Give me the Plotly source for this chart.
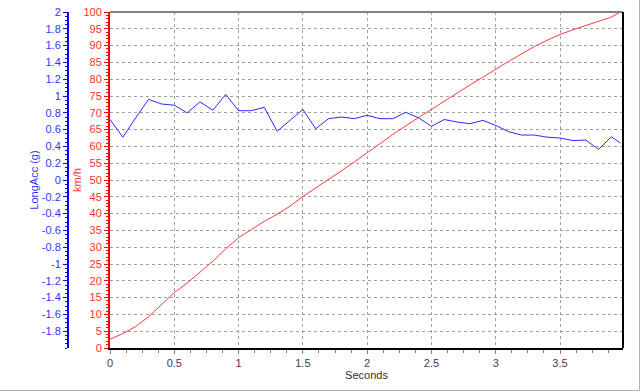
import plotly.graph_objects as go

# ---- data ----
time_s = [0.0, 0.1, 0.2, 0.3, 0.4, 0.5, 0.6, 0.7, 0.8, 0.9,
          1.0, 1.1, 1.2, 1.3, 1.4, 1.5, 1.6, 1.7, 1.8, 1.9,
          2.0, 2.1, 2.2, 2.3, 2.4, 2.5, 2.6, 2.7, 2.8, 2.9,
          3.0, 3.1, 3.2, 3.3, 3.4, 3.5, 3.6, 3.7, 3.8, 3.9, 3.97]

speed_kmh = [2.6, 4.3, 6.4, 9.3, 12.9, 16.5, 19.3, 22.5, 25.8, 29.5,
             32.8, 35.3, 37.7, 39.8, 42.2, 45.1, 47.6, 50.1, 52.7, 55.4,
             58.0, 60.8, 63.6, 66.2, 68.6, 71.0, 73.5, 76.0, 78.3, 80.6,
             83.0, 85.3, 87.5, 89.7, 91.6, 93.3, 94.7, 95.9, 97.1, 98.5, 100.0]

long_acc_g = [0.72, 0.51, 0.74, 0.96, 0.905, 0.89, 0.80, 0.93, 0.83, 1.02,
              0.825, 0.825, 0.865, 0.58, 0.71, 0.84, 0.61, 0.73, 0.75, 0.73,
              0.77, 0.73, 0.73, 0.806, 0.74, 0.64, 0.72, 0.69, 0.67, 0.71,
              0.65, 0.575, 0.535, 0.535, 0.51, 0.50, 0.47, 0.475, 0.365, 0.515, 0.44]

acc_tick_vals = [2, 1.8, 1.6, 1.4, 1.2, 1, 0.8, 0.6, 0.4, 0.2, 0,
                 -0.2, -0.4, -0.6, -0.8, -1, -1.2, -1.4, -1.6, -1.8]
acc_tick_text = ["2", "1.8", "1.6", "1.4", "1.2", "1", "0.8", "0.6", "0.4", "0.2", "0",
                 "-0.2", "-0.4", "-0.6", "-0.8", "-1", "-1.2", "-1.4", "-1.6", "-1.8"]

FONT = "Liberation Sans, Arial, sans-serif"
W, H = 641, 392
ML, MR, MT, MB = 60, 18, 12, 44
PW = W - ML - MR
PH = H - MT - MB
X0_PX = 110          # left edge of plotting area
BLUE_AXIS_PX = 68    # position of free blue axis

fig = go.Figure()
fig.add_trace(go.Scatter(x=time_s, y=speed_kmh, mode="lines",
                         line=dict(color="#ff3a3a", width=1), yaxis="y", name="km/h"))
fig.add_trace(go.Scatter(x=time_s, y=long_acc_g, mode="lines",
                         line=dict(color="#2a2aff", width=1), yaxis="y2", name="LongAcc (g)"))

dom0 = (X0_PX - ML) / PW
fig.update_layout(
    width=W, height=H,
    margin=dict(l=ML, r=MR, t=MT, b=MB, autoexpand=False),
    paper_bgcolor="white", plot_bgcolor="white",
    showlegend=False,
    font=dict(family=FONT, size=11, color="#404040"),
    xaxis=dict(
        domain=[dom0, 1], range=[0, 3.99], dtick=0.5, tick0=0,
        showgrid=True, gridcolor="#a0a0a0", griddash="3px,3px", gridwidth=1,
        zeroline=False, showline=True, linecolor="black", linewidth=2,
        ticks="outside", ticklen=4, tickcolor="#808080",
        minor=dict(dtick=0.125, ticks="outside", ticklen=3, tickcolor="#808080", showgrid=False),
        tickfont=dict(family=FONT, size=11, color="#404050"),
        title=dict(text="Seconds", font=dict(family=FONT, size=11, color="#303030"), standoff=2),
        automargin=False,
    ),
    yaxis=dict(
        range=[0, 100], dtick=5, tick0=0, anchor="x",
        showgrid=True, gridcolor="#a0a0a0", griddash="3px,3px", gridwidth=1,
        zeroline=False, showline=True, linecolor="#ff0000", linewidth=2,
        ticks="outside", ticklen=4, tickcolor="#ff0000",
        minor=dict(dtick=1, ticks="outside", ticklen=2, tickcolor="#ff0000", showgrid=False),
        tickfont=dict(family=FONT, size=11, color="#ff3030"),
        title=dict(text="km/h", font=dict(family=FONT, size=11, color="#ff3030"), standoff=0),
        automargin=False,
    ),
    yaxis2=dict(
        range=[-2, 2], overlaying="y", anchor="free", side="left",
        position=(BLUE_AXIS_PX - ML) / PW,
        tickmode="array", tickvals=acc_tick_vals, ticktext=acc_tick_text,
        showgrid=False, zeroline=False, showline=True, linecolor="#0000ff", linewidth=2,
        ticks="outside", ticklen=4, tickcolor="#0000ff",
        minor=dict(tickmode="linear", tick0=0, dtick=0.05, ticks="outside", ticklen=2,
                   tickcolor="#0000ff", showgrid=False),
        tickfont=dict(family=FONT, size=11, color="#3333ff"),
        title=dict(text="LongAcc (g)", font=dict(family=FONT, size=11, color="#3333ff"), standoff=0),
        automargin=False,
    ),
    shapes=[
        # top border of plotting area (gray)
        dict(type="line", xref="paper", yref="paper", x0=dom0, x1=1, y0=1, y1=1,
             line=dict(color="#808080", width=2)),
        # right border (black)
        dict(type="line", xref="paper", yref="paper", x0=1, x1=1, y0=0, y1=1,
             line=dict(color="black", width=2)),
        # outer frame of the image: bottom and right edges (light gray)
        dict(type="line", xref="paper", yref="paper",
             x0=(0 - ML) / PW, x1=(W - 1.5 - ML) / PW,
             y0=(MT + PH - (H - 1.5)) / PH, y1=(MT + PH - (H - 1.5)) / PH,
             line=dict(color="#b0b0b0", width=1), layer="below"),
        dict(type="line", xref="paper", yref="paper",
             x0=(W - 1.5 - ML) / PW, x1=(W - 1.5 - ML) / PW,
             y0=(MT + PH - (H - 1.5)) / PH, y1=(MT + PH) / PH,
             line=dict(color="#b0b0b0", width=1), layer="below"),
    ],
)

fig.write_html("out.html")
